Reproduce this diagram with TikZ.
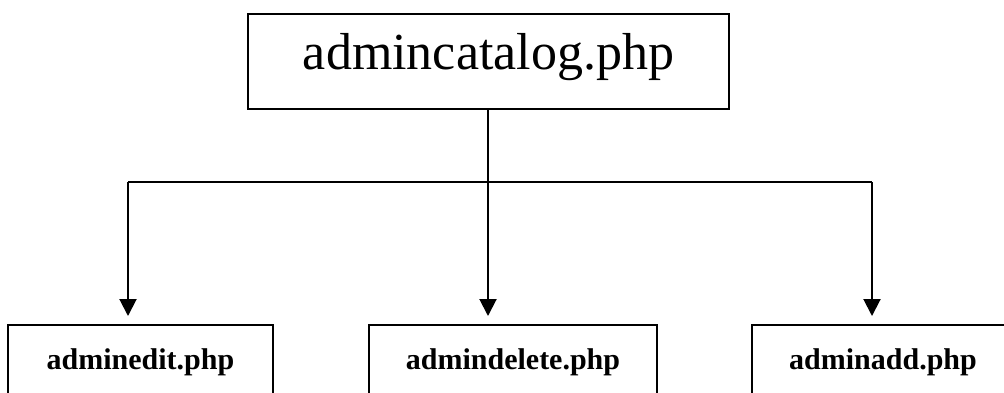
\documentclass[tikz,border=0pt]{standalone}
\usepackage{fontspec}
\setmainfont{Liberation Serif}
\usetikzlibrary{arrows.meta}
\begin{document}
\begin{tikzpicture}[x=1pt,y=-1pt,
  box/.style={draw, line width=2pt, inner sep=0pt},
  topbox/.style={box, minimum width=481pt, minimum height=95pt, text height=36pt, text depth=20pt, font=\fontsize{52}{60}\selectfont},
  leafbox/.style={box, minimum height=70pt, text height=24pt, text depth=6pt, font=\fontsize{30}{36}\selectfont\bfseries},
  conn/.style={line width=2pt},
  arr/.style={conn, -{Triangle[width=17pt,length=17pt]}, shorten >=8pt}]
\useasboundingbox (0,0) rectangle (1004,392);
\node[topbox] (top) at (488.5,61.5) {admincatalog.php};
\node[leafbox, minimum width=265pt] (edit) at (140.5,360) {adminedit.php};
\node[leafbox, minimum width=288pt] (del) at (513,360) {admindelete.php};
\node[leafbox, minimum width=262pt] (add) at (883,360) {adminadd.php};
\coordinate (hl) at (128,182);
\coordinate (hm) at (488,182);
\coordinate (hr) at (872,182);
\draw[conn] (top.south -| hm) -- (hm);
\draw[conn] (hl) -- (hr);
\draw[arr] (hl) -- (hl |- edit.north);
\draw[arr] (hm) -- (hm |- del.north);
\draw[arr] (hr) -- (hr |- add.north);
\end{tikzpicture}
\end{document}
